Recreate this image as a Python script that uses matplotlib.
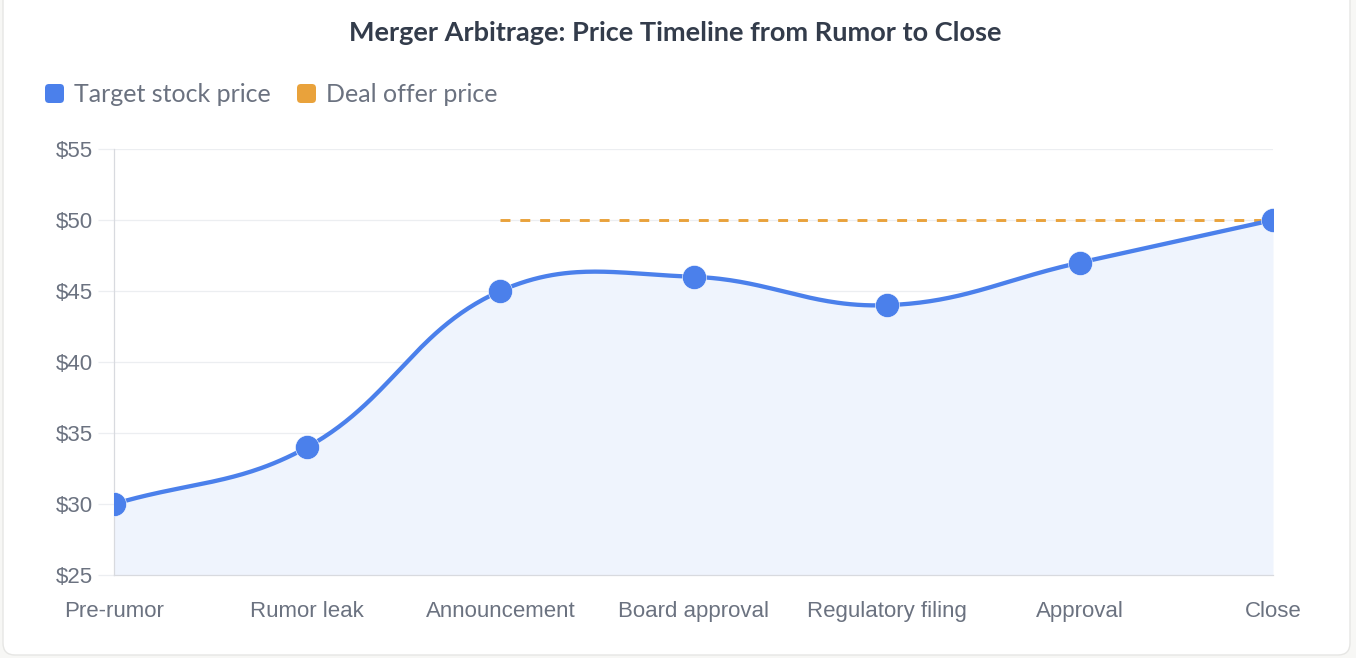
import numpy as np
import matplotlib.pyplot as plt
from matplotlib.patches import FancyBboxPatch

# Chart data
stages = ["Pre-rumor", "Rumor leak", "Announcement", "Board approval",
          "Regulatory filing", "Approval", "Close"]
target_price = [30, 34, 45, 46, 44, 47, 50]
offer_start = 2          # offer price exists from the announcement on
offer_price = [50, 50, 50, 50, 50]
y_ticks = [25, 30, 35, 40, 45, 50, 55]

BLUE = "#4b80eb"
FILL = "#eff4fd"
ORANGE = "#e9a23b"
GRID = "#eceef1"
AXIS = "#d8dadf"
TEXT = "#6b7280"
TITLE = "#333c4b"

W, H = 1356, 658
fig = plt.figure(figsize=(W / 100, H / 100), dpi=100)
fig.patch.set_facecolor("#f7f7f5")

# white card behind the chart (pixel coords)
card = FancyBboxPatch((3, 3), W - 9, H + 40, boxstyle="round,pad=0,rounding_size=12",
                      transform=None, facecolor="white", edgecolor="#e6e6e4",
                      linewidth=1, zorder=-10)
fig.add_artist(card)

# plot area: x 114..1273 px, y 149..575 px
ax = fig.add_axes([114 / W, 1 - 575 / H, (1273 - 114) / W, (575 - 149) / H])
ax.set_facecolor("none")
ax.set_xlim(0, len(stages) - 1)
ax.set_ylim(25, 55)


def spline_controls(px, py, tension=0.4):
    # control points like chart.js' splineCurve, computed in pixel units
    n = len(px)
    before, after = [], []
    for i in range(n):
        p = max(i - 1, 0)
        q = min(i + 1, n - 1)
        d01 = np.hypot(px[i] - px[p], py[i] - py[p])
        d12 = np.hypot(px[q] - px[i], py[q] - py[i])
        tot = d01 + d12
        s01 = d01 / tot if tot else 0
        s12 = d12 / tot if tot else 0
        fa, fb = tension * s01, tension * s12
        before.append((px[i] - fa * (px[q] - px[p]), py[i] - fa * (py[q] - py[p])))
        after.append((px[i] + fb * (px[q] - px[p]), py[i] + fb * (py[q] - py[p])))
    return before, after


sx = (1273 - 114) / (len(stages) - 1)
sy = (575 - 149) / 30.0
xs = np.arange(len(stages))
px = xs * sx
py = np.array(target_price) * sy
before, after = spline_controls(px, py)

t = np.linspace(0, 1, 60)[:, None]
curve = []
for i in range(len(stages) - 1):
    p0 = np.array([px[i], py[i]])
    p1 = np.array(after[i])
    p2 = np.array(before[i + 1])
    p3 = np.array([px[i + 1], py[i + 1]])
    seg = ((1 - t) ** 3) * p0 + 3 * ((1 - t) ** 2) * t * p1 + 3 * (1 - t) * t ** 2 * p2 + t ** 3 * p3
    curve.append(seg if i == 0 else seg[1:])
curve = np.vstack(curve)
cx, cy = curve[:, 0] / sx, curve[:, 1] / sy

ax.fill_between(cx, cy, 25, color=FILL, lw=0, zorder=1)
ax.plot(cx, cy, color=BLUE, lw=3.1, solid_capstyle="round", zorder=3)
ax.plot(xs[offer_start:], offer_price, color=ORANGE, lw=2.1, dashes=(3.4, 3.4), zorder=2)
ax.scatter(xs, target_price, s=300, color=BLUE, edgecolors="white", linewidths=0.4, zorder=4)

ax.set_yticks(y_ticks)
ax.set_yticklabels([f"${v}" for v in y_ticks])
ax.set_xticks(xs)
ax.set_xticklabels(stages)
ax.grid(axis="y", color=GRID, lw=0.9)
ax.set_axisbelow(True)
ax.tick_params(axis="y", length=11.5, width=0.9, color=GRID, pad=4,
               labelsize=16, labelcolor=TEXT)
ax.tick_params(axis="x", length=0, pad=19, labelsize=16, labelcolor=TEXT)
for lab in ax.get_xticklabels() + ax.get_yticklabels():
    lab.set_fontfamily("Liberation Sans")
for side in ("top", "right"):
    ax.spines[side].set_visible(False)
ax.spines["left"].set_color(AXIS)
ax.spines["bottom"].set_color(AXIS)
ax.spines["left"].set_linewidth(0.9)
ax.spines["bottom"].set_linewidth(0.9)

# title
fig.text(675.5 / W, 1 - 33 / H, "Merger Arbitrage: Price Timeline from Rumor to Close",
         ha="center", va="center", fontsize=19.5, fontweight="bold",
         color=TITLE, family="Lato")

# legend drawn by hand
legend_items = [("Target stock price", BLUE, 45), ("Deal offer price", ORANGE, 297)]
for label, col, x0 in legend_items:
    sq = FancyBboxPatch((x0, H - 103), 19, 19, boxstyle="round,pad=0,rounding_size=4",
                        transform=None, facecolor=col, edgecolor="none")
    fig.add_artist(sq)
    fig.text((x0 + 29) / W, 1 - 95 / H, label, ha="left", va="center",
             fontsize=18, color=TEXT, family="Lato")

fig.savefig("out.png", dpi=100, facecolor=fig.get_facecolor())
